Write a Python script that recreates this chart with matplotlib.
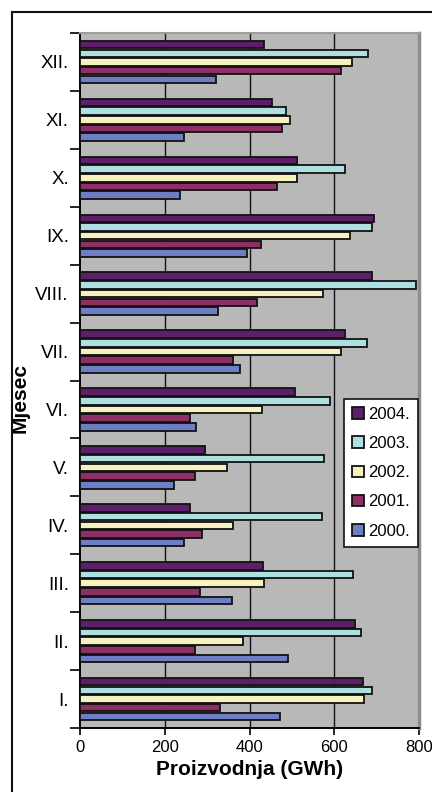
"""Monthly electricity production by year, horizontal grouped bars."""
import matplotlib

matplotlib.use("Agg")
import matplotlib.pyplot as plt
import numpy as np
from matplotlib.patches import Rectangle

MONTHS = ["I.", "II.", "III.", "IV.", "V.", "VI.",
          "VII.", "VIII.", "IX.", "X.", "XI.", "XII."]
YEARS = ["2000.", "2001.", "2002.", "2003.", "2004."]

# GWh per month, January first
PROD_2000 = [472, 492, 358, 246, 221, 274, 377, 325, 394, 235, 246, 322]
PROD_2001 = [330, 271, 283, 288, 272, 260, 360, 417, 427, 464, 476, 615]
PROD_2002 = [670, 384, 435, 362, 347, 429, 615, 574, 638, 511, 496, 641]
PROD_2003 = [689, 664, 645, 570, 576, 590, 678, 794, 689, 625, 485, 680]
PROD_2004 = [668, 648, 431, 260, 295, 507, 625, 689, 693, 511, 454, 434]

COLORS = ["#6D7EC4", "#8E2F66", "#F5F2C0", "#AEE0E2", "#5E1E6A"]

plt.rcParams["font.family"] = ["Liberation Sans", "DejaVu Sans"]

fig = plt.figure(figsize=(4.32, 7.92), dpi=100)
ax = fig.add_axes([80 / 432, 1 - 728 / 792, 339 / 432, 695 / 792])
ax.set_facecolor("#B8B8B8")

series = [PROD_2000, PROD_2001, PROD_2002, PROD_2003, PROD_2004]
y = np.arange(len(MONTHS))
offsets = [-0.3, -0.15, 0.0, 0.15, 0.3]
bars = []
for values, off, color, year in zip(series, offsets, COLORS, YEARS):
    b = ax.barh(y + off, values, height=0.13, color=color,
                edgecolor="#111111", linewidth=1.3, label=year, zorder=3)
    bars.append(b)

ax.set_xlim(0, 800)
ax.set_ylim(-0.5, len(MONTHS) - 0.5)
for gx in (200, 400, 600):
    ax.axvline(gx, color="#111111", linewidth=1.0, zorder=1)

ax.set_xticks([0, 200, 400, 600, 800])
ax.tick_params(axis="x", labelsize=12, length=5, width=1.2, pad=4)
ax.set_yticks(y)
ax.set_yticklabels(MONTHS)
ax.set_yticks(np.arange(-0.5, len(MONTHS)), minor=True)
ax.tick_params(axis="y", which="major", length=0, labelsize=13.5, pad=8)
ax.tick_params(axis="y", which="minor", length=7, width=1.2)

ax.spines["left"].set_linewidth(1.4)
ax.spines["bottom"].set_linewidth(1.4)
ax.spines["right"].set_color("#8A8E8C")
ax.spines["right"].set_linewidth(2.5)
ax.spines["top"].set_color("#9A9E9C")
ax.spines["top"].set_linewidth(1.5)

ax.set_xlabel("Proizvodnja (GWh)", fontsize=15, fontweight="bold", labelpad=3)
ax.set_ylabel("Mjesec", fontsize=15, fontweight="bold")
ax.yaxis.set_label_coords(-0.15, 0.475)

leg = ax.legend(handles=bars[::-1], loc="upper left",
                bbox_to_anchor=(0.778, 0.474), fontsize=12,
                frameon=True, fancybox=False, handlelength=0.7,
                handleheight=0.7, handletextpad=0.25, labelspacing=0.85,
                borderpad=0.5, borderaxespad=0)
leg.get_frame().set_edgecolor("#111111")
leg.get_frame().set_linewidth(1.2)
leg.get_frame().set_facecolor("white")
leg.get_frame().set_alpha(1)

# outer chart border, clipped at the right and bottom
fig.patches.append(Rectangle((12 / 432, -0.1), 1.2, 1.1 - 12 / 792,
                             transform=fig.transFigure, fill=False,
                             edgecolor="#111111", linewidth=1.5))

fig.savefig("out.png", dpi=100)
